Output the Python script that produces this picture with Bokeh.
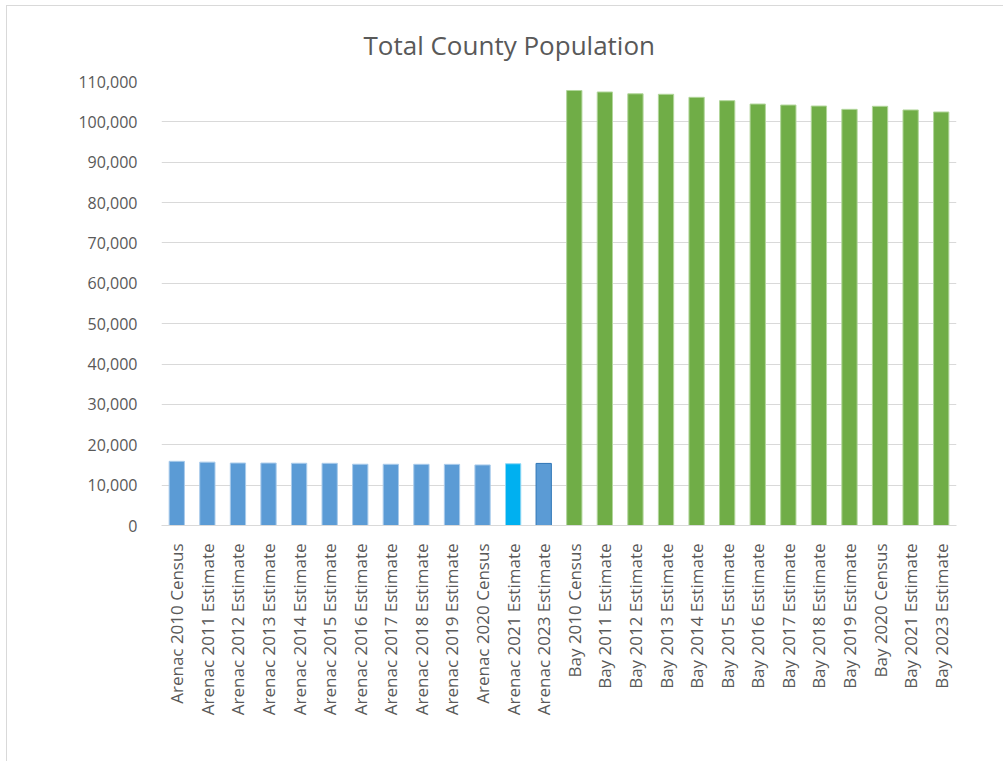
from bokeh.plotting import figure
from bokeh.models import ColumnDataSource, FactorRange, Range1d, NumeralTickFormatter, FixedTicker
from bokeh.embed import file_html
from bokeh.resources import INLINE
import math

# ---- data ----
categories = [
    "Arenac 2010 Census", "Arenac 2011 Estimate", "Arenac 2012 Estimate", "Arenac 2013 Estimate",
    "Arenac 2014 Estimate", "Arenac 2015 Estimate", "Arenac 2016 Estimate", "Arenac 2017 Estimate",
    "Arenac 2018 Estimate", "Arenac 2019 Estimate", "Arenac 2020 Census", "Arenac 2021 Estimate",
    "Arenac 2023 Estimate",
    "Bay 2010 Census", "Bay 2011 Estimate", "Bay 2012 Estimate", "Bay 2013 Estimate",
    "Bay 2014 Estimate", "Bay 2015 Estimate", "Bay 2016 Estimate", "Bay 2017 Estimate",
    "Bay 2018 Estimate", "Bay 2019 Estimate", "Bay 2020 Census", "Bay 2021 Estimate",
    "Bay 2023 Estimate",
]
population = [
    15899, 15700, 15480, 15470, 15420, 15410, 15180, 15170, 15160, 15150, 15002, 15300, 15380,
    107771, 107400, 106950, 106830, 106080, 105250, 104420, 104170, 103920, 103100, 103856,
    102950, 102450,
]
y_ticks = [0, 10000, 20000, 30000, 40000, 50000, 60000, 70000, 80000, 90000, 100000, 110000]

# ---- styles ----
fills = ["#5B9BD5"] * 11 + ["#00B0F0", "#5B9BD5"] + ["#70AD47"] * 13
lines = ["#A9CBEB"] * 11 + ["#8FD8F5", "#2E75B6"] + ["#B2D69B"] * 13

src = ColumnDataSource(dict(cat=categories, pop=population, fill=fills, line=lines))

p = figure(
    x_range=FactorRange(*categories, range_padding=0),
    y_range=Range1d(0, 110000),
    width=997, height=756,
    output_backend="svg", toolbar_location=None,
    title="Total County Population",
    min_border_left=154, min_border_right=48, min_border_top=75, min_border_bottom=237,
)
p.margin = (5, 0, 0, 6)
p.vbar(x="cat", top="pop", width=0.5, source=src, fill_color="fill", line_color="line", line_width=1)

p.title.text_font = "Open Sans"
p.title.text_font_size = "26px"
p.title.text_font_style = "normal"
p.title.text_color = "#595959"
p.title.align = "left"
p.title.offset = 202
p.title.standoff = 37

p.outline_line_color = None
p.background_fill_color = "white"
p.border_fill_color = "white"

p.yaxis.ticker = FixedTicker(ticks=y_ticks)
p.yaxis.formatter = NumeralTickFormatter(format="0,0")
p.yaxis.axis_line_color = None
p.yaxis.major_tick_line_color = None
p.yaxis.minor_tick_line_color = None
p.yaxis.major_label_text_font = "Open Sans"
p.yaxis.major_label_text_font_size = "16px"
p.yaxis.major_label_text_color = "#595959"
p.yaxis.major_label_standoff = 18

p.xaxis.axis_line_color = "#D9D9D9"
p.xaxis.major_tick_line_color = None
p.xaxis.minor_tick_line_color = None
p.xaxis.major_label_orientation = math.pi / 2
p.xaxis.major_label_text_font = "Open Sans"
p.xaxis.major_label_text_font_size = "17px"
p.xaxis.major_label_text_color = "#595959"
p.xaxis.major_label_standoff = 12

p.xgrid.grid_line_color = None
p.ygrid.grid_line_color = "#D9D9D9"
p.ygrid.grid_line_width = 1

p.styles = {"border-top": "1px solid #D9D9D9", "border-left": "1px solid #D9D9D9"}

open("out.html", "w").write(file_html(p, INLINE))
